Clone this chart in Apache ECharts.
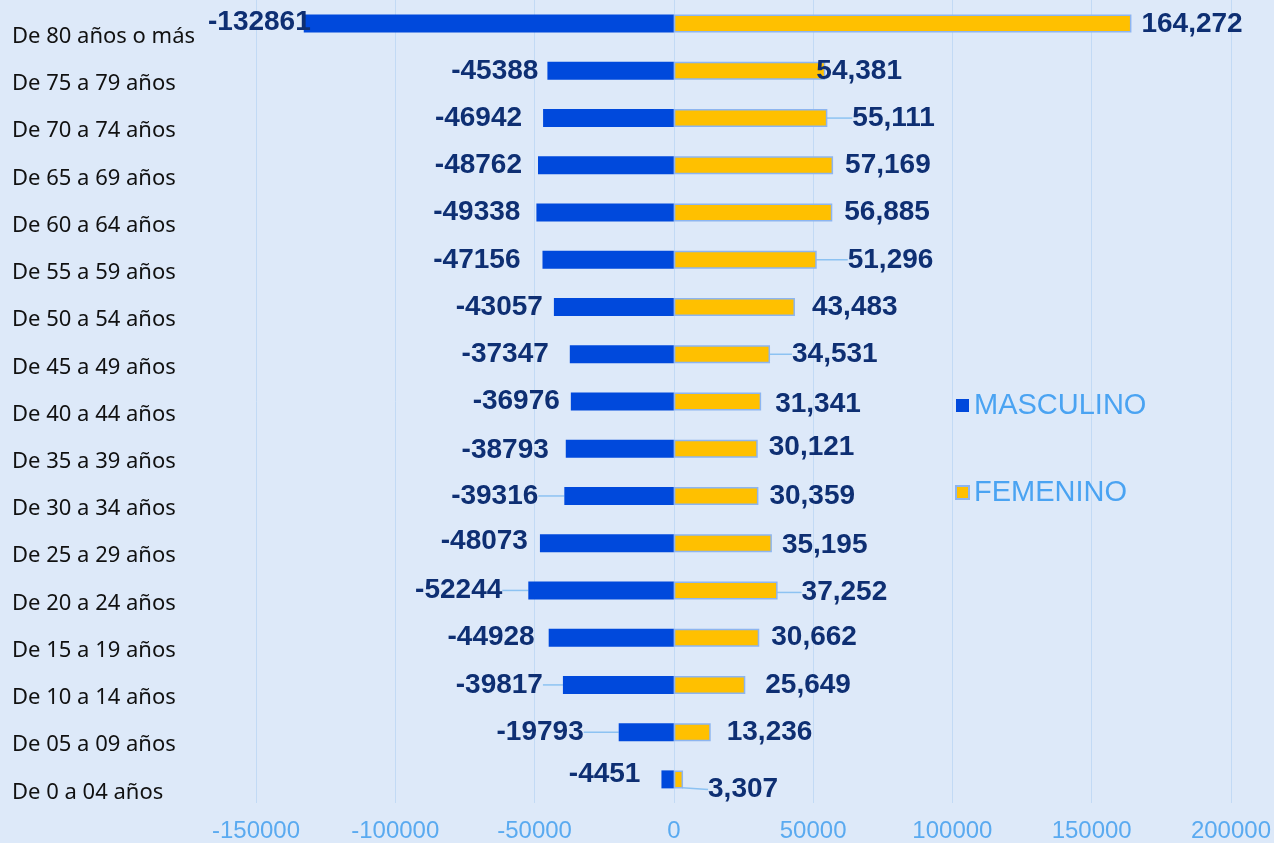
<!DOCTYPE html>
<html>
<head>
<meta charset="utf-8">
<script src="https://cdn.jsdelivr.net/npm/echarts@6/dist/echarts.min.js"></script>
<style>
  html, body { margin: 0; padding: 0; background: #dde9f9; }
  #main { width: 1274px; height: 843px; }
</style>
</head>
<body>
<div id="main"></div>
<script>
// grupos de edad, de abajo hacia arriba
var categorias = [
  "De 0 a 04 años", "De 05 a 09 años", "De 10 a 14 años", "De 15 a 19 años",
  "De 20 a 24 años", "De 25 a 29 años", "De 30 a 34 años", "De 35 a 39 años",
  "De 40 a 44 años", "De 45 a 49 años", "De 50 a 54 años", "De 55 a 59 años",
  "De 60 a 64 años", "De 65 a 69 años", "De 70 a 74 años", "De 75 a 79 años",
  "De 80 años o más"
];
var masculino = [-4451, -19793, -39817, -44928, -52244, -48073, -39316, -38793,
  -36976, -37347, -43057, -47156, -49338, -48762, -46942, -45388, -132861];
var femenino = [3307, 13236, 25649, 30662, 37252, 35195, 30359, 30121,
  31341, 34531, 43483, 51296, 56885, 57169, 55111, 54381, 164272];
var ticksX = [-150000, 200000, 50000]; // min, max, intervalo

// separacion de etiquetas (px) y cuales llevan linea guia
var sepMasc = [21, 35, 20, 14, 26, 12, 26, 17, 11, 21, 11, 22, 16, 16, 21, 9, -7];
var dyMasc  = [-5, 0, 0, 0, 0, -2, 0, 2, 0, 0, 0, 0, 0, 0, 0, 0, -1];
var guiaMasc = [0, 1, 1, 0, 1, 0, 1, 0, 0, 0, 0, 0, 0, 0, 0, 0, 0];
var sepFem = [25, 16, 20, 12, 24, 10, 11, 11, 14, 22, 17, 31, 12, 12, 25, -9, 10];
var dyFem  = [10, 0, 0, 0, 2, 2, 0, -1, 3, 0, 0, 0, 0, 0, 0, 0, 1];
var guiaFem = [1, 0, 0, 0, 1, 0, 0, 0, 0, 1, 0, 1, 0, 0, 1, 0, 0];

var chartDom = document.getElementById("main");
var myChart = echarts.init(chartDom);

function armar(valores, sep, guia) {
  return valores.map(function (v, i) {
    return {
      value: v,
      label: { distance: guia[i] ? 3 : sep[i] },
      labelLine: { show: !!guia[i] }
    };
  });
}

function mover(sep, dy, guia, signo) {
  return function (p) {
    var i = p.dataIndex;
    return {
      dx: guia[i] ? signo * (sep[i] - 3) : 0,
      dy: dy[i]
    };
  };
}

var estiloEtiqueta = {
  show: true,
  color: "#0e2f73",
  fontSize: 28,
  fontWeight: "bold",
  fontFamily: "Liberation Sans, Arial, sans-serif"
};

const option = {
  backgroundColor: "#dde9f9",
  animation: false,
  grid: { left: 256, right: 42, top: -3, bottom: 39 },
  legend: {
    orient: "vertical",
    left: 950,
    top: 386,
    itemGap: 58,
    itemWidth: 13,
    itemHeight: 13,
    icon: "rect",
    textStyle: { color: "#4aa3f2", fontSize: 29, fontFamily: "Liberation Sans, Arial, sans-serif" },
    data: ["MASCULINO", "FEMENINO"]
  },
  xAxis: {
    type: "value",
    min: ticksX[0],
    max: ticksX[1],
    interval: ticksX[2],
    axisLine: { show: false },
    axisTick: { show: false },
    splitLine: { lineStyle: { color: "#c2daf5", width: 1 } },
    axisLabel: {
      color: "#5aaaf0",
      fontSize: 24,
      margin: 16,
      fontFamily: "Liberation Sans, Arial, sans-serif",
      formatter: function (v) { return String(v); }
    }
  },
  yAxis: {
    type: "category",
    data: categorias,
    axisLine: { show: false },
    axisTick: { show: false },
    axisLabel: {
      align: "left",
      margin: 244,
      formatter: function (v) { return "{c|" + v + "}"; },
      rich: {
        c: {
          color: "#111",
          fontSize: 22,
          fontFamily: "Noto Sans, Open Sans, sans-serif",
          padding: [26, 0, 0, 0]
        }
      }
    }
  },
  series: [
    {
      name: "MASCULINO",
      type: "bar",
      stack: "total",
      barWidth: 18,
      itemStyle: { color: "#0049dc" },
      label: Object.assign({}, estiloEtiqueta, {
        position: "left",
        formatter: function (p) { return String(p.value); }
      }),
      labelLine: { show: false, lineStyle: { color: "#8cc2f2", width: 1.5 } },
      labelLayout: mover(sepMasc, dyMasc, guiaMasc, -1),
      data: armar(masculino, sepMasc, guiaMasc)
    },
    {
      name: "FEMENINO",
      type: "bar",
      stack: "total",
      barWidth: 18,
      itemStyle: { color: "#ffc000", borderColor: "#8db5f0", borderWidth: 1.5 },
      label: Object.assign({}, estiloEtiqueta, {
        position: "right",
        formatter: function (p) { return p.value.toLocaleString("en-US"); }
      }),
      labelLine: { show: false, lineStyle: { color: "#8cc2f2", width: 1.5 } },
      labelLayout: mover(sepFem, dyFem, guiaFem, 1),
      data: armar(femenino, sepFem, guiaFem)
    }
  ]
};

myChart.setOption(option);
window.addEventListener("resize", () => myChart.resize());
</script>
</body>
</html>
